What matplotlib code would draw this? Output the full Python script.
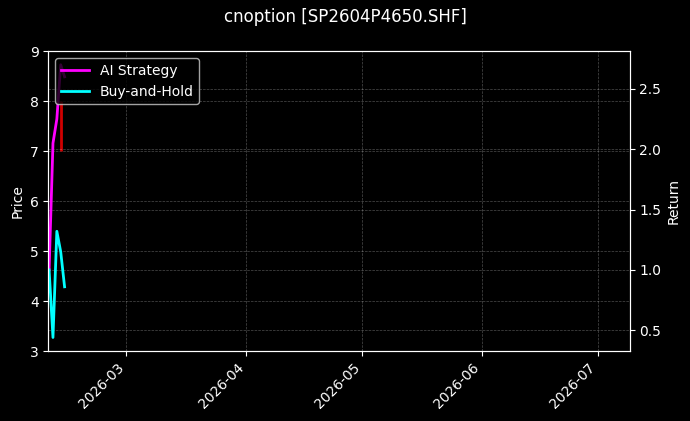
import numpy as np
import pandas as pd
import matplotlib
matplotlib.use("Agg")
import matplotlib.pyplot as plt
import matplotlib.dates as mdates

# data
dates = pd.to_datetime(['2026-02-09', '2026-02-10', '2026-02-11', '2026-02-12', '2026-02-13'])
ai_strategy = [1.00, 2.05, 2.25, 2.70, 2.60]
buy_hold = [1.00, 0.44, 1.32, 1.15, 0.86]

# only visible price bar (low/high)
bar_dates = pd.to_datetime(['2026-02-12'])
bar_low = [7.0]
bar_high = [8.0]

plt.style.use('dark_background')
fig = plt.figure(figsize=(6.9, 4.21), dpi=100)
ax1 = fig.add_axes([0.070, 0.166, 0.8426, 0.7126])

ax1.vlines(bar_dates, bar_low, bar_high, color='#d00000', linewidth=2)
ax1.set_ylim(3, 9)
ax1.set_xlim(pd.Timestamp('2026-02-08 19:00'), pd.Timestamp('2026-07-09 03:00'))
ax1.set_ylabel('Price')
ax1.grid(True, linestyle='--', linewidth=0.5, alpha=0.3)

ax2 = ax1.twinx()
ax2.plot(dates, ai_strategy, color='#ff00ff', linewidth=2, label='AI Strategy')
ax2.plot(dates, buy_hold, color='#00ffff', linewidth=2, label='Buy-and-Hold')
ax2.set_ylabel('Return')
ax2.grid(True, linestyle='--', linewidth=0.5, alpha=0.3)
ax2.legend(loc='upper left')

ax1.xaxis.set_major_locator(mdates.MonthLocator())
ax1.xaxis.set_major_formatter(mdates.DateFormatter('%Y-%m'))
plt.setp(ax1.get_xticklabels(), rotation=45, ha='right')

fig.suptitle('cnoption [SP2604P4650.SHF]', fontsize=12)
fig.savefig('out.png', dpi=100)
